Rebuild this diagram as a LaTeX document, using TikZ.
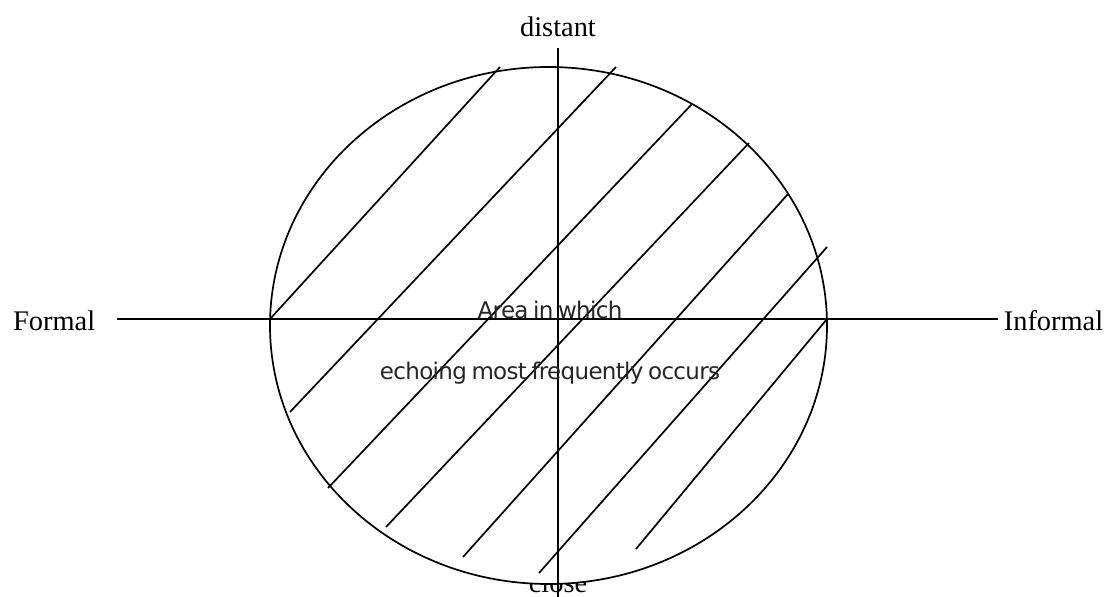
\documentclass[tikz,border=0pt]{standalone}
\usepackage{fontspec}
\setmainfont{Liberation Serif}
\newfontfamily\areafont[LetterSpace=-3,WordSpace=0.7]{DejaVu Sans}
\begin{document}
\begin{tikzpicture}[x=1pt, y=-1pt, line width=1.7pt,
    every node/.style={inner sep=0pt},
    axislabel/.style={font=\fontsize{28.4}{30}\selectfont},
    arealabel/.style={font=\areafont\fontsize{23}{25}\selectfont, text=black!85}]
    \useasboundingbox (0,0) rectangle (1106,597);
    \node[axislabel, anchor=base] (close) at (558,592) {close};
    \draw[fill=white] (548.5,325.5) ellipse [x radius=278.5, y radius=258.5];
    \node[axislabel, anchor=base] (distant) at (558,36) {distant};
    \node[axislabel, anchor=base east] (formal) at (96,330) {Formal};
    \node[axislabel, anchor=base west] (informal) at (1003,330) {Informal};
    \coordinate (left) at (117,319);
    \coordinate (right) at (998,319);
    \coordinate (top) at (558,48);
    \coordinate (bottom) at (558,600);
    \draw (left) -- (right);
    \draw (top) -- (bottom);
    % hatching
    \foreach \xa/\ya/\xb/\yb in {270/319/500/67, 290/412/616/67, 328/488/692/104,
        386/527/749/143, 463/557/788/194, 539/573/827/247, 636/549/827/319}
        \draw (\xa,\ya) -- (\xb,\yb);
    \node[arealabel, anchor=base] (area) at (550,318) {Area in which};
    \node[arealabel, anchor=base] (echo) at (550,379) {echoing most frequently occurs};
\end{tikzpicture}
\end{document}
